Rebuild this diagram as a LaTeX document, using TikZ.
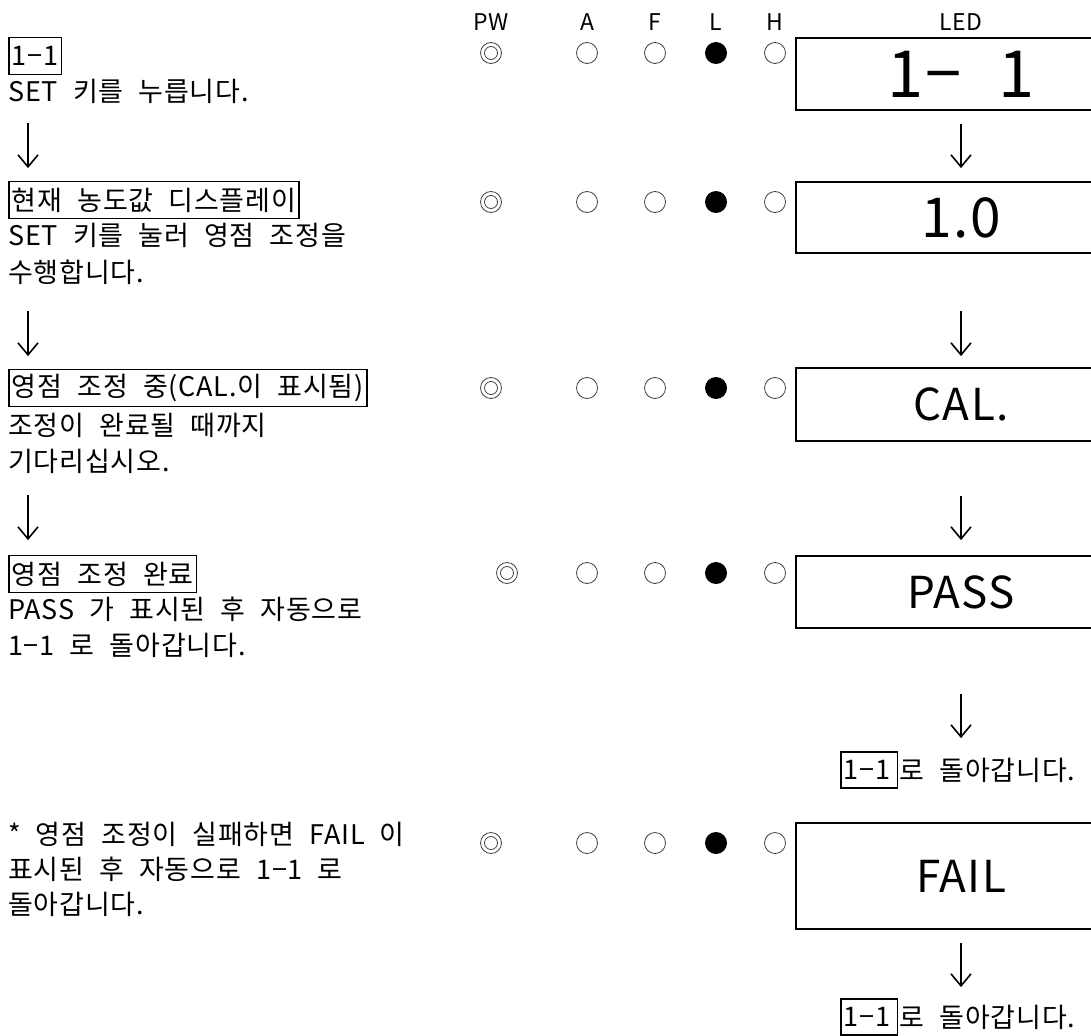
\documentclass[tikz,border=0pt]{standalone}
\usepackage{fontspec}
\setmainfont{Noto Sans CJK KR}[WordSpace=2.2, LetterSpace=3]
\usetikzlibrary{positioning,arrows.meta}

\begin{document}
\begin{tikzpicture}[
    x=1pt, y=-1pt,
    every node/.style={font=\fontsize{27}{30}\selectfont, inner sep=0pt},
    line/.style={anchor=base west, text depth=7pt},
    title/.style={draw, line width=1.8pt, anchor=west, inner xsep=3pt, minimum height=37pt},
    hdr/.style={font=\fontsize{23}{26}\selectfont},
    lcd/.style={draw, line width=1.8pt, minimum width=330pt, minimum height=72pt},
    ledoff/.style={circle, draw=black!75, line width=0.8pt, minimum size=21pt},
    ledon/.style={circle, fill=black, minimum size=22pt},
    arr/.style={-{Straight Barb[length=12pt, width=20pt]}, line width=1.6pt}
]
    \useasboundingbox (0,0) rectangle (1091,1035);

    % headers
    \foreach \name/\x in {PW/491, A/587, F/655, L/716, H/775, LED/961}
        \node[hdr] (h\name) at (\x,22) {\name};

    % left column
    \node[title] (t1) at (8,56) {1−1};
    \node[line] (d1) at (8,102) {SET 키를 누릅니다.};
    \node[title] (t2) at (8,200) {현재 농도값 디스플레이};
    \node[line] (d2a) at (8,245) {SET 키를 눌러 영점 조정을};
    \node[line] (d2b) at (8,282) {수행합니다.};
    \node[title] (t3) at (8,388) {영점 조정 중(CAL.이 표시됨)};
    \node[line] (d3a) at (8,435) {조정이 완료될 때까지};
    \node[line] (d3b) at (8,471) {기다리십시오.};
    \node[title] (t4) at (8,574) {영점 조정 완료};
    \node[line] (d4a) at (8,619) {PASS 가 표시된 후 자동으로};
    \node[line] (d4b) at (8,655) {1−1 로 돌아갑니다.};
    \node[line] (d5a) at (8,844) {* 영점 조정이 실패하면 FAIL 이};
    \node[line] (d5b) at (8,879) {표시된 후 자동으로 1−1 로};
    \node[line] (d5c) at (8,914) {돌아갑니다.};

    \draw[arr, shorten <=14pt, shorten >=12.5pt] ([xshift=20pt]d1.south west) -- ([xshift=20pt]t2.north west);
    \draw[arr, shorten <=22pt, shorten >=12.5pt] ([xshift=20pt]d2b.south west) -- ([xshift=20pt]t3.north west);
    \draw[arr, shorten <=17pt, shorten >=14.5pt] ([xshift=20pt]d3b.south west) -- ([xshift=20pt]t4.north west);

    % lamps
    \foreach \y/\p [count=\i] in {53/491, 202/491, 388/491, 573/507, 843/491} {
        \node[ledoff, minimum size=21pt] (pw\i) at (\p,\y) {};
        \draw[black!75, line width=0.8pt] (pw\i.center) circle (6.5pt);
        \node[ledoff] (a\i) at (587,\y) {};
        \node[ledoff] (f\i) at (655,\y) {};
        \node[ledon] (l\i) at (716,\y) {};
        \node[ledoff] (h\i) at (775,\y) {};
    }

    % display
    \node[lcd, font=\fontsize{65}{65}\selectfont] (led1) at (961,74) {1− 1};
    \node[lcd, minimum height=71pt, font=\fontsize{55}{55}\selectfont] (led2) at (961,217.5) {1.0};
    \node[lcd, minimum height=73pt, font=\fontsize{44}{44}\selectfont] (led3) at (961,404.5) {CAL.};
    \node[lcd, font=\fontsize{44}{44}\selectfont] (led4) at (961,592) {PASS};
    \node[lcd, minimum height=106pt, font=\fontsize{44}{44}\selectfont] (led5) at (961,876) {FAIL};

    \node[title, minimum height=36pt] (bk1) at (840,770) {1−1\kern4pt};
    \node[right=1pt of bk1] (bk1t) {로 돌아갑니다.};
    \node[title, minimum height=36pt] (bk2) at (840,1017) {1−1\kern4pt};
    \node[right=1pt of bk2] (bk2t) {로 돌아갑니다.};

    \draw[arr, shorten <=13pt, shorten >=13pt] (led1) -- (led2);
    \draw[arr, shorten <=57pt, shorten >=11pt] (led2) -- (led3);
    \draw[arr, shorten <=54pt, shorten >=15pt] (led3) -- (led4);
    \draw[arr, shorten <=65pt, shorten >=13pt] (led4.south) -- (led4.south |- bk1.north);
    \draw[arr, shorten <=13pt, shorten >=11pt] (led5.south) -- (led5.south |- bk2.north);
\end{tikzpicture}
\end{document}
